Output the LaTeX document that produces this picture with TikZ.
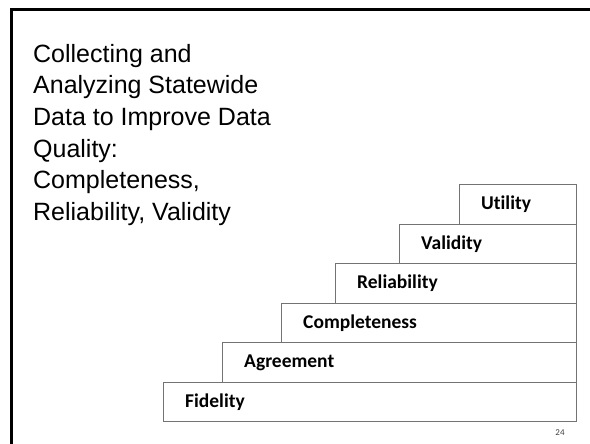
\documentclass[tikz,border=0pt]{standalone}
\usepackage{fontspec}
\setmainfont{Liberation Sans}
\newfontfamily\stepfont[Ligatures=NoCommon]{Carlito}
\usetikzlibrary{positioning}

\tikzset{
	stepbox/.style={draw=black!55, line width=0.8pt, minimum height=39.5pt, anchor=south west, inner sep=0pt},
	steplabel/.style={inner sep=0pt, font=\stepfont\bfseries\fontsize{19.5}{21}\selectfont}
}

\begin{document}
\begin{tikzpicture}[x=1pt,y=1pt]
		\useasboundingbox (0,0) rectangle (590,444);
		\draw[line width=3pt] (590,434) -- (11,434) -- (11,0);
		\node[inner sep=0pt, anchor=north west, align=left, font=\fontsize{25}{31.6}\selectfont] (title) at (33,400)
			{Collecting and\\Analyzing Statewide\\Data to Improve Data\\Quality:\\Completeness,\\Reliability, Validity};
		\node[stepbox, minimum width=413pt] (fid) at (163,22) {};
		\node[stepbox, minimum width=354pt] (agr) at (222,61.5) {};
		\node[stepbox, minimum width=295pt] (com) at (281,101) {};
		\node[stepbox, minimum width=241pt] (rel) at (335,140.5) {};
		\node[stepbox, minimum width=177pt] (val) at (399,180) {};
		\node[stepbox, minimum width=117pt] (uti) at (459,219.5) {};
		\node[steplabel, anchor=west, right=22pt of fid.west] {Fidelity};
		\node[steplabel, anchor=west, right=22pt of agr.west] {Agreement};
		\node[steplabel, anchor=west, right=22pt of com.west] {Completeness};
		\node[steplabel, anchor=west, right=22pt of rel.west] {Reliability};
		\node[steplabel, anchor=west, right=22pt of val.west] {Validity};
		\node[steplabel, anchor=west, right=22pt of uti.west] {Utility};
		\node[font=\stepfont\fontsize{9}{10}\selectfont, text=black!75, inner sep=0pt] (page) at (560,11) {24};
	\end{tikzpicture}
\end{document}
